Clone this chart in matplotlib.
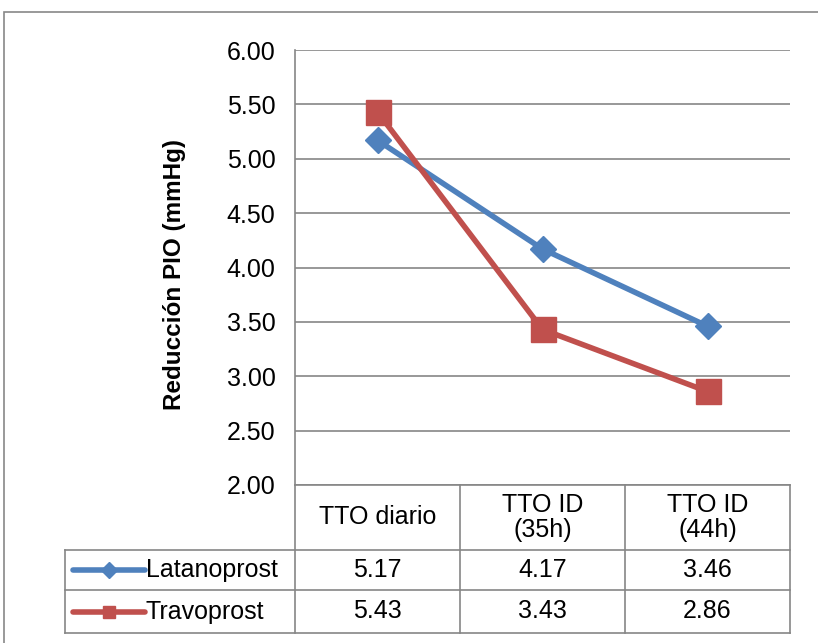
import matplotlib.pyplot as plt
from matplotlib.lines import Line2D
from matplotlib.patches import Rectangle

plt.rcParams['font.family'] = ['Liberation Sans', 'DejaVu Sans']

categories = ['TTO diario', 'TTO ID\n(35h)', 'TTO ID\n(44h)']
series_names = ['Latanoprost', 'Travoprost']
latanoprost = [5.17, 4.17, 3.46]
travoprost = [5.43, 3.43, 2.86]
yticks = [2.0, 2.5, 3.0, 3.5, 4.0, 4.5, 5.0, 5.5, 6.0]

W, H = 818, 643
colors = ['#4F81BD', '#C0504D']
markers = ['D', 's']
msizes = [13, 18]
grid_c = '#868686'
fs = 18

fig = plt.figure(figsize=(W / 100, H / 100), dpi=100)

def fx(px):
    return px / W

def fy(py):
    return 1 - py / H

# outer chart border
fig.patches.append(Rectangle((fx(4), fy(700)), fx(900), fy(12) - fy(700),
                             transform=fig.transFigure, fill=False,
                             edgecolor='#878787', lw=1.2))

ax_l, ax_r, ax_t, ax_b = 295, 790, 50, 485
ax = fig.add_axes([fx(ax_l), fy(ax_b), fx(ax_r - ax_l), fy(ax_t) - fy(ax_b)])
ax.set_xlim(-0.5, len(categories) - 0.5)
ax.set_ylim(2.0, 6.0)
ax.set_yticks(yticks)
ax.set_yticklabels(['%.2f' % t for t in yticks], fontsize=fs)
ax.set_xticks([])
ax.tick_params(axis='y', length=0, pad=14)
for s in ['top', 'right', 'bottom']:
    ax.spines[s].set_visible(False)
ax.spines['left'].set_color(grid_c)
ax.spines['left'].set_linewidth(1.2)
ax.grid(axis='y', color=grid_c, lw=1.2)
ax.set_axisbelow(True)
ax.set_ylabel('Reducción PIO (mmHg)', fontsize=17.5, fontweight='bold', labelpad=29)
ax.yaxis.label.set_y(0.485)

xs = range(len(categories))
for vals, c, m, ms in zip([latanoprost, travoprost], colors, markers, msizes):
    ax.plot(xs, vals, color=c, lw=4, marker=m, markersize=ms, clip_on=False)

# data table
col_edges = [295, 460, 625, 790]
row_edges = [485, 550, 590, 633]
label_left = 65

def hline(x0, x1, y):
    fig.lines.append(Line2D([fx(x0), fx(x1)], [fy(y), fy(y)], transform=fig.transFigure,
                            color=grid_c, lw=1.2))

def vline(x, y0, y1):
    fig.lines.append(Line2D([fx(x), fx(x)], [fy(y0), fy(y1)], transform=fig.transFigure,
                            color=grid_c, lw=1.2))

hline(col_edges[0], col_edges[-1], row_edges[0])
for y in row_edges[1:]:
    hline(label_left, col_edges[-1], y)
for x in col_edges:
    vline(x, row_edges[0], row_edges[-1])
vline(label_left, row_edges[1], row_edges[-1])

for i, cat in enumerate(categories):
    cx = (col_edges[i] + col_edges[i + 1]) / 2
    cy = (row_edges[0] + row_edges[1]) / 2
    fig.text(fx(cx), fy(cy), cat, ha='center', va='center', fontsize=fs, linespacing=1.05)

for r, (name, vals, c, m) in enumerate(zip(series_names, [latanoprost, travoprost],
                                           colors, markers)):
    cy = (row_edges[r + 1] + row_edges[r + 2]) / 2
    # legend key: line with a small marker in the middle
    fig.lines.append(Line2D([fx(73), fx(145)], [fy(cy), fy(cy)], transform=fig.transFigure,
                            color=c, lw=4, solid_capstyle='round'))
    fig.lines.append(Line2D([fx(109)], [fy(cy)], transform=fig.transFigure,
                            color=c, lw=0, marker=m, markersize=8 if m == 'D' else 9))
    fig.text(fx(146), fy(cy), name, ha='left', va='center', fontsize=fs)
    for i, v in enumerate(vals):
        cx = (col_edges[i] + col_edges[i + 1]) / 2
        fig.text(fx(cx), fy(cy), '%.2f' % v, ha='center', va='center', fontsize=fs)

fig.savefig('out.png', dpi=100)
